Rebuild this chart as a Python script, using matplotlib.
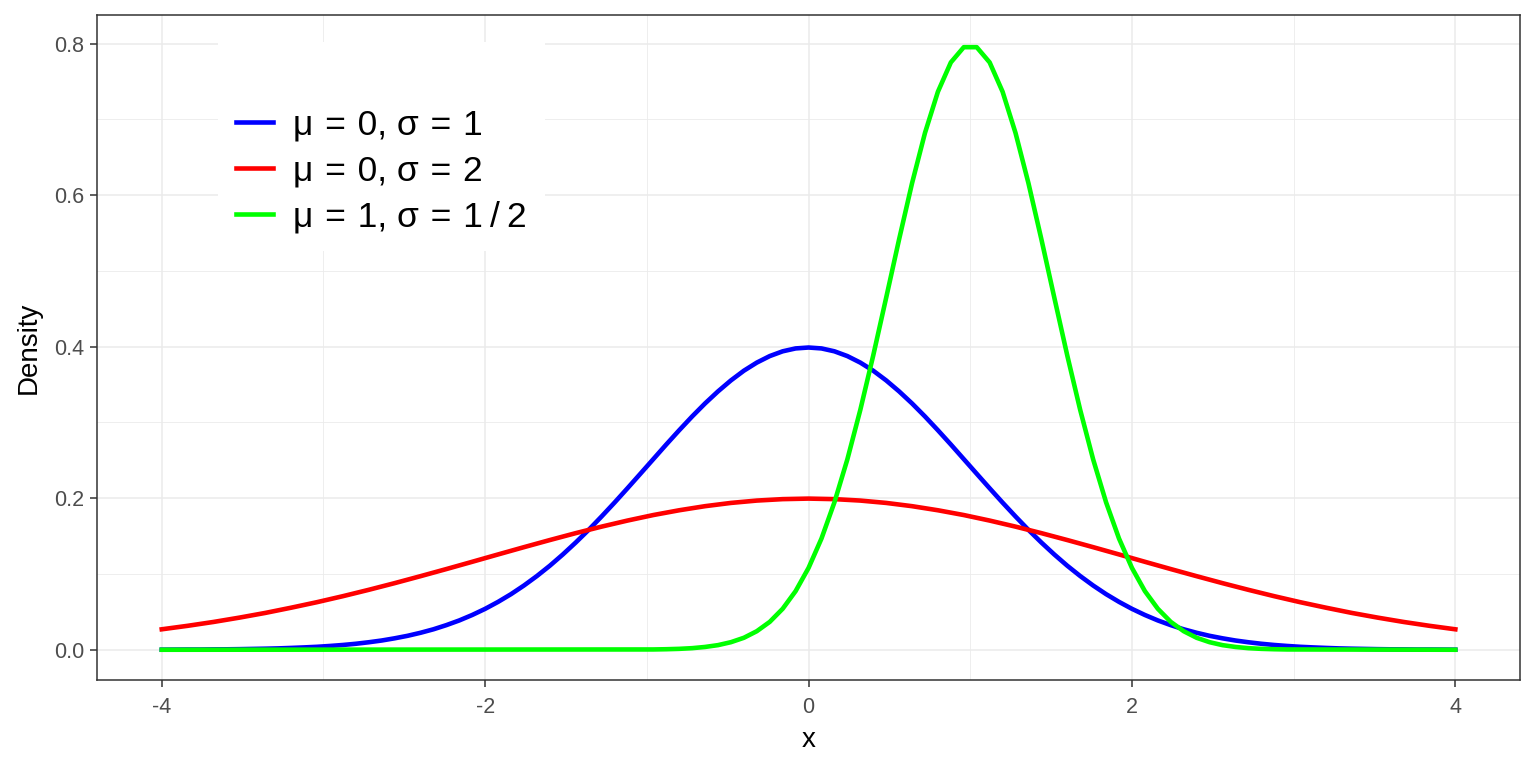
import matplotlib
matplotlib.use('Agg')
import matplotlib.pyplot as plt
from matplotlib.ticker import MultipleLocator, FormatStrFormatter

plt.rcParams['font.family'] = ['Liberation Sans', 'DejaVu Sans']

# mu = 0, sigma = 1  (step 0.08)
x_blue = [-4.0, -3.92, -3.84, -3.76, -3.68, -3.6, -3.52, -3.44, -3.36, -3.28,
          -3.2, -3.12, -3.04, -2.96, -2.88, -2.8, -2.72, -2.64, -2.56, -2.48,
          -2.4, -2.32, -2.24, -2.16, -2.08, -2.0, -1.92, -1.84, -1.76, -1.68,
          -1.6, -1.52, -1.44, -1.36, -1.28, -1.2, -1.12, -1.04, -0.96, -0.88,
          -0.8, -0.72, -0.64, -0.56, -0.48, -0.4, -0.32, -0.24, -0.16, -0.08,
          0.0,
          0.08, 0.16, 0.24, 0.32, 0.4, 0.48, 0.56, 0.64, 0.72, 0.8,
          0.88, 0.96, 1.04, 1.12, 1.2, 1.28, 1.36, 1.44, 1.52, 1.6,
          1.68, 1.76, 1.84, 1.92, 2.0, 2.08, 2.16, 2.24, 2.32, 2.4,
          2.48, 2.56, 2.64, 2.72, 2.8, 2.88, 2.96, 3.04, 3.12, 3.2,
          3.28, 3.36, 3.44, 3.52, 3.6, 3.68, 3.76, 3.84, 3.92, 4.0]
y_blue = [0.0001, 0.0002, 0.0003, 0.0003, 0.0005, 0.0006, 0.0008, 0.0011, 0.0014, 0.0018,
          0.0024, 0.0031, 0.0039, 0.0050, 0.0063, 0.0079, 0.0099, 0.0122, 0.0151, 0.0184,
          0.0224, 0.0270, 0.0325, 0.0387, 0.0459, 0.0540, 0.0632, 0.0734, 0.0848, 0.0973,
          0.1109, 0.1257, 0.1415, 0.1582, 0.1759, 0.1942, 0.2131, 0.2323, 0.2516, 0.2709,
          0.2897, 0.3079, 0.3251, 0.3410, 0.3555, 0.3683, 0.3790, 0.3876, 0.3939, 0.3977,
          0.3989,
          0.3977, 0.3939, 0.3876, 0.3790, 0.3683, 0.3555, 0.3410, 0.3251, 0.3079, 0.2897,
          0.2709, 0.2516, 0.2323, 0.2131, 0.1942, 0.1759, 0.1582, 0.1415, 0.1257, 0.1109,
          0.0973, 0.0848, 0.0734, 0.0632, 0.0540, 0.0459, 0.0387, 0.0325, 0.0270, 0.0224,
          0.0184, 0.0151, 0.0122, 0.0099, 0.0079, 0.0063, 0.0050, 0.0039, 0.0031, 0.0024,
          0.0018, 0.0014, 0.0011, 0.0008, 0.0006, 0.0005, 0.0003, 0.0003, 0.0002, 0.0001]

# mu = 0, sigma = 2  (step 0.16)
x_red = [-4.0, -3.84, -3.68, -3.52, -3.36, -3.2, -3.04, -2.88, -2.72, -2.56,
         -2.4, -2.24, -2.08, -1.92, -1.76, -1.6, -1.44, -1.28, -1.12, -0.96,
         -0.8, -0.64, -0.48, -0.32, -0.16, 0.0, 0.16, 0.32, 0.48, 0.64,
         0.8, 0.96, 1.12, 1.28, 1.44, 1.6, 1.76, 1.92, 2.08, 2.24,
         2.4, 2.56, 2.72, 2.88, 3.04, 3.2, 3.36, 3.52, 3.68, 3.84, 4.0]
y_red = [0.0270, 0.0316, 0.0367, 0.0424, 0.0486, 0.0555, 0.0628, 0.0707, 0.0791, 0.0879,
         0.0971, 0.1065, 0.1161, 0.1258, 0.1354, 0.1448, 0.1539, 0.1625, 0.1705, 0.1778,
         0.1841, 0.1895, 0.1938, 0.1969, 0.1988, 0.1995, 0.1988, 0.1969, 0.1938, 0.1895,
         0.1841, 0.1778, 0.1705, 0.1625, 0.1539, 0.1448, 0.1354, 0.1258, 0.1161, 0.1065,
         0.0971, 0.0879, 0.0791, 0.0707, 0.0628, 0.0555, 0.0486, 0.0424, 0.0367, 0.0316, 0.0270]

# mu = 1, sigma = 1/2
x_green = [-4.0, -0.96, -0.88, -0.8, -0.72, -0.64, -0.56, -0.48, -0.4, -0.32, -0.24,
           -0.16, -0.08, 0.0, 0.08, 0.16, 0.24, 0.32, 0.4, 0.48, 0.56,
           0.64, 0.72, 0.8, 0.88, 0.96, 1.04, 1.12, 1.2, 1.28, 1.36,
           1.44, 1.52, 1.6, 1.68, 1.76, 1.84, 1.92, 2.0, 2.08, 2.16,
           2.24, 2.32, 2.4, 2.48, 2.56, 2.64, 2.72, 2.8, 2.88, 2.96, 4.0]
y_green = [0.0, 0.0004, 0.0007, 0.0012, 0.0021, 0.0037, 0.0061, 0.0100, 0.0158, 0.0245, 0.0368,
           0.0541, 0.0774, 0.1080, 0.1468, 0.1946, 0.2513, 0.3165, 0.3884, 0.4646, 0.5417,
           0.6157, 0.6821, 0.7365, 0.7752, 0.7953, 0.7953, 0.7752, 0.7365, 0.6821, 0.6157,
           0.5417, 0.4646, 0.3884, 0.3165, 0.2513, 0.1946, 0.1468, 0.1080, 0.0774, 0.0541,
           0.0368, 0.0245, 0.0158, 0.0100, 0.0061, 0.0037, 0.0021, 0.0012, 0.0007, 0.0004, 0.0]

sp = '\u2004'
labels = ['μ' + sp + '=' + sp + '0, σ' + sp + '=' + sp + '1',
          'μ' + sp + '=' + sp + '0, σ' + sp + '=' + sp + '2',
          'μ' + sp + '=' + sp + '1, σ' + sp + '=' + sp + '1\u2009/\u20092']

fig = plt.figure(figsize=(15.36, 7.68), dpi=100)
ax = fig.add_axes([0.0632, 0.1146, 0.9264, 0.8659])

ax.plot(x_blue, y_blue, color='#0000FF', lw=3.3, label=labels[0], solid_joinstyle='round')
ax.plot(x_red, y_red, color='#FF0000', lw=3.3, label=labels[1], solid_joinstyle='round')
ax.plot(x_green, y_green, color='#00FF00', lw=3.3, label=labels[2], solid_joinstyle='round')

ax.set_xlim(-4.4, 4.4)
ax.set_ylim(-0.0399, 0.8378)
ax.set_xticks([-4, -2, 0, 2, 4])
ax.set_xticklabels(['-4', '-2', '0', '2', '4'])
ax.xaxis.set_minor_locator(MultipleLocator(1))
ax.yaxis.set_major_locator(MultipleLocator(0.2))
ax.yaxis.set_minor_locator(MultipleLocator(0.1))
ax.yaxis.set_major_formatter(FormatStrFormatter('%.1f'))

ax.grid(which='major', color='#EBEBEB', lw=1.1)
ax.grid(which='minor', color='#EBEBEB', lw=0.6)
ax.set_axisbelow(True)
for s in ax.spines.values():
    s.set_color('#333333')
    s.set_linewidth(1.1)
ax.tick_params(which='major', length=5, width=1.1, color='#333333',
               labelsize=15.5, labelcolor='#4D4D4D', pad=4)
ax.tick_params(axis='x', which='major', pad=7)
ax.tick_params(which='minor', length=0)

ax.set_xlabel('x', fontsize=20, labelpad=7)
ax.set_ylabel('Density', fontsize=20, labelpad=9)

leg = ax.legend(loc='upper left', bbox_to_anchor=(0.085, 0.9594), fontsize=25.5,
                frameon=True, facecolor='white', edgecolor='none', framealpha=1,
                fancybox=False, handlelength=1.05, handletextpad=0.56,
                labelspacing=0.37, borderpad=0.51, borderaxespad=0,
                title=' ', title_fontsize=26)
leg.get_frame().set_linewidth(0)

fig.savefig('out.png', dpi=100)
